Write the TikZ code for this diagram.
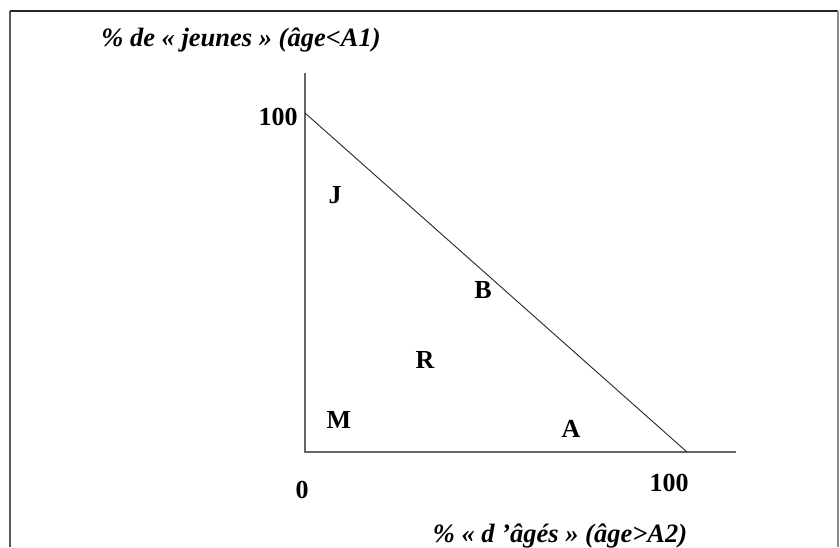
\documentclass[tikz,border=0pt]{standalone}
\usepackage{fontspec}
\setmainfont{Liberation Serif}
\begin{document}
\begin{tikzpicture}[x=1pt,y=-1pt,
  lbl/.style={font=\fontsize{26}{29}\selectfont\bfseries, inner sep=0pt},
  axlbl/.style={font=\fontsize{26.5}{29}\selectfont\bfseries\itshape, inner sep=0pt},
  axisline/.style={draw=black!60, line width=1.2pt},
  diag/.style={draw=black!85, line width=0.9pt},
  frameline/.style={line width=1.3pt}]
\useasboundingbox (0,0) rectangle (840,547);
% frame
\draw[frameline, draw=black!65] (10,547) -- (10,11);
\draw[frameline, draw=black!85] (10,11) -- (838,11);
\draw[frameline, draw=black!45] (838,11) -- (838,547);
% axes
\coordinate (O) at (305,452);
\coordinate (ytop) at (305,73);
\coordinate (xend) at (736,452);
\coordinate (y100) at (305,113);
\coordinate (x100) at (687,452);
\draw[axisline] (ytop) -- (O) -- (xend);
\draw[diag] (y100) -- (x100);
% labels
\node[axlbl] (ylab) at (241,40) {\% de « jeunes » (âge<A1)};
\node[axlbl] (xlab) at (560,536) {\% « d ’âgés » (âge>A2)};
\node[lbl] (t100y) at (278,117) {100};
\node[lbl] (t0) at (302,490) {0};
\node[lbl] (t100x) at (669,483) {100};
\node[lbl] (J) at (335,195) {J};
\node[lbl] (B) at (483,290) {B};
\node[lbl] (R) at (425,360) {R};
\node[lbl] (M) at (339,420) {M};
\node[lbl] (A) at (571,429) {A};
\end{tikzpicture}
\end{document}
